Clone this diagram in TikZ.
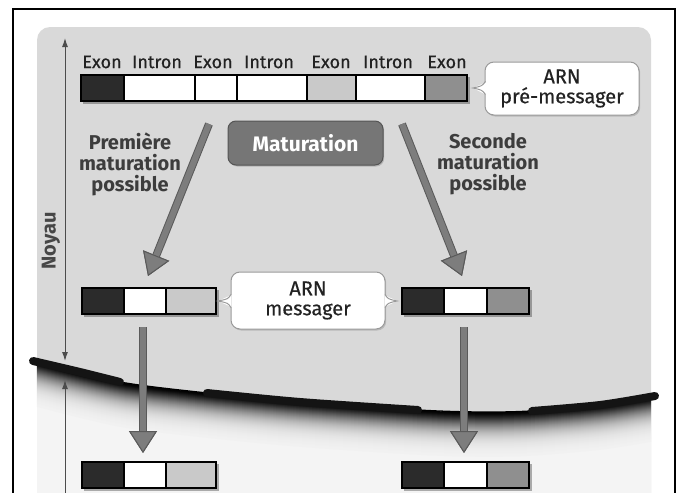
\documentclass[tikz,border=0pt]{standalone}
\usepackage{fontspec}
\setmainfont{Fira Sans}
\newfontfamily\medfont{Fira Sans}[FakeBold=0.5]
\usetikzlibrary{arrows.meta,calc,shadows}
\definecolor{panel}{HTML}{D9D9D9}
\definecolor{cyto}{HTML}{F4F4F4}
\definecolor{darkseg}{HTML}{2B2B2B}
\definecolor{lightseg}{HTML}{C9C9C9}
\definecolor{midseg}{HTML}{8F8F8F}
\definecolor{arrowfill}{HTML}{7D7D7D}
\definecolor{arrowedge}{HTML}{5A5A5A}
\definecolor{matfill}{HTML}{767676}
\definecolor{matedge}{HTML}{555555}
\definecolor{calloutedge}{HTML}{9A9A9A}
\definecolor{txt}{HTML}{222222}
\tikzset{
  lbl/.style={font=\medfont\fontsize{18}{18}\selectfont, text=txt, inner sep=0pt},
  side/.style={font=\fontsize{20}{21}\selectfont\bfseries, text=black!76, align=center, inner sep=0pt},
  segline/.style={draw=black, line width=1.2pt},
  barframe/.style={draw=black, line width=2.2pt},
  barshadow/.style={fill=black, opacity=0.3},
  bigarrow/.style={line width=6pt, draw=arrowfill,
    -{Triangle[length=22pt,width=28pt,line width=1pt,color=arrowedge,fill=arrowfill]},
    preaction={draw=arrowedge, line width=8pt,
      -{Triangle[length=22pt,width=28pt,line width=1pt,color=arrowedge,fill=arrowfill]}}},
  axisline/.style={draw=black!70, line width=1pt},
  callout/.style={draw=calloutedge, line width=1pt, fill=white, rounded corners=9pt,
    align=center, font=\medfont\fontsize{20}{20}\selectfont, text=txt,
    drop shadow={shadow xshift=1.2pt, shadow yshift=-1.5pt, opacity=0.35}},
  matbox/.style={draw=matedge, line width=1pt, fill=matfill, rounded corners=8pt,
    font=\fontsize{21}{21}\selectfont\bfseries, text=white,
    drop shadow={shadow xshift=1.2pt, shadow yshift=-1.5pt, opacity=0.4}},
  membraneseg/.style={line width=8pt, line cap=round, draw=black!92},
}
\begin{document}
\begin{tikzpicture}[x=1pt,y=-1pt]
\useasboundingbox (0,0) rectangle (681,493);
\clip (0,0) rectangle (681,493);
\fill[white] (0,0) rectangle (681,493);
% panel
\fill[panel, rounded corners=13pt] (37,540) -- (37,27) -- (651,27) -- (651,540) -- cycle;
% cytoplasm
\fill[cyto] plot[smooth] coordinates {(37,362) (120,382) (207,393) (300,402) (418,410) (480,412) (530,411) (600,405) (651,397)} -- (651,500) -- (37,500) -- cycle;
% shadow below membrane
\foreach \i in {44,43,...,1}{
  \pgfmathsetmacro{\d}{100*exp(-(\i/16)^1.5)}
  \draw[line width=1.6pt, color=black!\d!cyto] plot[smooth] coordinates {(37,362+\i) (120,382+\i) (207,393+\i) (300,402+\i) (418,410+\i) (480,412+\i) (530,411+\i) (600,405+\i) (651,397+\i)};
}
% membrane thin line
\draw[line width=1.3pt] plot[smooth] coordinates {(37,362) (120,382) (207,393) (300,402) (418,410) (480,412) (530,411) (600,405) (651,397)};
% thick segments
\draw[membraneseg] plot[smooth] coordinates {(33,361) (80,372) (120,382)};
\draw[membraneseg] plot[smooth] coordinates {(207,393) (300,402) (418,410)};
\draw[membraneseg] plot[smooth] coordinates {(532,411) (600,405) (655,396)};

% frame
\draw[line width=1.6pt] (13,500) -- (13,9) -- (675,9) -- (675,500);

% Noyau axis
\coordinate (ntop) at (65,38);
\coordinate (nbot) at (65,361);
\coordinate (ctop) at (65,380);
\coordinate (cbot) at (65,500);
\draw[axisline, {Latex[length=9pt,width=6pt]}-{Latex[length=9pt,width=6pt]}] (ntop) -- (nbot);
\draw[axisline, {Latex[length=9pt,width=6pt]}-] (ctop) -- (cbot);
\node[rotate=90, font=\fontsize{20}{20}\selectfont\bfseries, text=black!72] (noyau) at (51,241) {Noyau};

% pre-messenger bar
\fill[barshadow] (83,77) rectangle (470,104);
\fill[darkseg] (81,75) rectangle (124,101);
\fill[white] (124,75) rectangle (307,101);
\fill[lightseg] (307,75) rectangle (356,101);
\fill[white] (356,75) rectangle (425,101);
\fill[midseg] (425,75) rectangle (467,101);
\foreach \xx in {124,195,237,307,356,425} \draw[segline] (\xx,75) -- (\xx,101);
\node[barframe, minimum width=386pt, minimum height=26pt, inner sep=0pt] (pre) at (274,88) {};

% labels
\node[lbl] (e1) at (102,62) {Exon};
\node[lbl] (i1) at (157,62) {Intron};
\node[lbl] (e2) at (213,62) {Exon};
\node[lbl] (i2) at (269,62) {Intron};
\node[lbl] (e3) at (331,62) {Exon};
\node[lbl] (i3) at (388,62) {Intron};
\node[lbl] (e4) at (447,62) {Exon};

% callout pre-messager
\node[callout, minimum width=154pt, minimum height=53pt, inner sep=0pt] (cpm) at (562,88.5) {ARN\\pré-messager};
\fill[white] (486.5,82) -- (473,88) -- (486.5,95) -- cycle;
\draw[calloutedge, line width=1pt] (485.5,81.5) .. controls (482,86) .. (473,88) .. controls (482,90) .. (485.5,94.5);

% Maturation
\node[matbox, minimum width=155pt, minimum height=44pt, inner sep=0pt] (mat) at (305.5,143) {Maturation};

% side texts
\node[side] (first) at (130,164) {Première\\maturation\\possible};
\node[side] (second) at (488,164) {Seconde\\maturation\\possible};

% mRNA bars (nucleus)
\fill[barshadow] (84,290) rectangle (219,317);
\fill[darkseg] (82,288) rectangle (124,314);
\fill[white] (124,288) rectangle (166,314);
\fill[lightseg] (166,288) rectangle (216,314);
\draw[segline] (124,288) -- (124,314) (166,288) -- (166,314);
\node[barframe, minimum width=134pt, minimum height=26pt, inner sep=0pt] (m1) at (149,301) {};

\fill[barshadow] (404,290) rectangle (532,317);
\fill[darkseg] (402,288) rectangle (444,314);
\fill[white] (444,288) rectangle (487,314);
\fill[midseg] (487,288) rectangle (529,314);
\draw[segline] (444,288) -- (444,314) (487,288) -- (487,314);
\node[barframe, minimum width=127pt, minimum height=26pt, inner sep=0pt] (m2) at (465.5,301) {};

% callout messager
\node[callout, minimum width=154pt, minimum height=57pt, inner sep=0pt] (cm) at (308,300.5) {ARN\\messager};
\fill[white] (231.5,295) -- (218,301) -- (231.5,307) -- cycle;
\draw[calloutedge, line width=1pt] (231,294.5) .. controls (228,299) .. (218,301) .. controls (228,303) .. (231,307.5);
\fill[white] (384.5,295) -- (397,301) -- (384.5,307) -- cycle;
\draw[calloutedge, line width=1pt] (385,294.5) .. controls (388,299) .. (397,301) .. controls (388,303) .. (385,307.5);

% mRNA bars (cytoplasm)
\fill[barshadow] (84,464) rectangle (219,491);
\fill[darkseg] (82,462) rectangle (124,488);
\fill[white] (124,462) rectangle (166,488);
\fill[lightseg] (166,462) rectangle (216,488);
\draw[segline] (124,462) -- (124,488) (166,462) -- (166,488);
\node[barframe, minimum width=134pt, minimum height=26pt, inner sep=0pt] (c1) at (149,475) {};

\fill[barshadow] (404,464) rectangle (532,491);
\fill[darkseg] (402,462) rectangle (444,488);
\fill[white] (444,462) rectangle (487,488);
\fill[midseg] (487,462) rectangle (529,488);
\draw[segline] (444,462) -- (444,488) (487,462) -- (487,488);
\node[barframe, minimum width=127pt, minimum height=26pt, inner sep=0pt] (c2) at (465.5,475) {};

% arrows
\coordinate (a1s) at (209,124);
\coordinate (a1e) at (148,276);
\coordinate (a2s) at (402,124);
\coordinate (a2e) at (462,276);
\coordinate (d1s) at (143,327);
\coordinate (d1e) at (143,453);
\coordinate (d2s) at (464,327);
\coordinate (d2e) at (464,453);
\draw[bigarrow] (a1s) -- (a1e);
\draw[bigarrow] (a2s) -- (a2e);
\draw[bigarrow] (d1s) -- (d1e);
\draw[bigarrow] (d2s) -- (d2e);
\end{tikzpicture}
\end{document}
